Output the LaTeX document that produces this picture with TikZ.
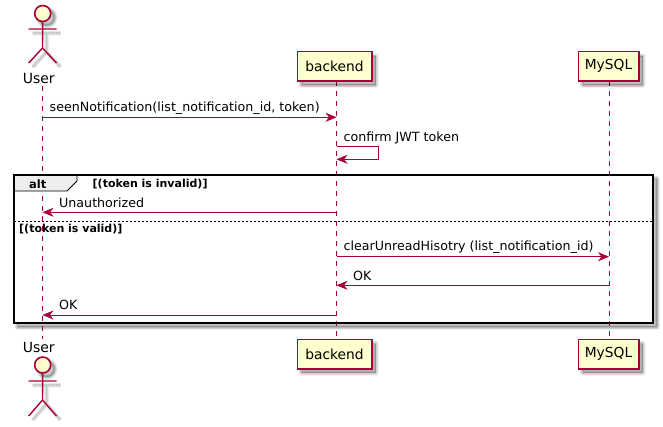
\documentclass[tikz,border=0pt]{standalone}
\usepackage{fontspec}
\setmainfont{DejaVu Sans}
\usetikzlibrary{arrows.meta,calc}
\definecolor{pline}{HTML}{A80036}
\definecolor{pfill}{HTML}{FEFECE}
\definecolor{ptab}{HTML}{EEEEEE}
\newcommand{\softshadow}[1]{%
  \foreach \w/\o in {6/0.05,4.5/0.07,3/0.09,1.5/0.11}{
    \path[draw=black,fill=black,line width=\w pt,draw opacity=\o,fill opacity=0.05,line join=round] #1;
  }}
\newcommand{\softstroke}[1]{%
  \foreach \w/\o in {5/0.05,3.5/0.07,2/0.09}{
    \path[draw=black,line width=\w pt,draw opacity=\o,line join=round] #1;
  }}
\tikzset{
  lifeline/.style={draw=pline,line width=0.8pt,dash pattern=on 5pt off 5pt},
  msg/.style={draw=pline,line width=0.8pt,-{Stealth[length=11pt,width=9pt,inset=3.5pt]}},
  part/.style={draw=pline,fill=pfill,line width=1.5pt,minimum height=29.5pt,inner sep=0pt,font=\fontsize{13.8}{16}\selectfont,text=black},
  msgtext/.style={anchor=base west,inner sep=0pt,font=\fontsize{12.65}{15}\selectfont,text=black},
  guard/.style={anchor=base west,inner sep=0pt,font=\fontsize{11}{13}\selectfont\bfseries,text=black},
  actorname/.style={inner sep=0pt,font=\fontsize{14}{16}\selectfont,text=black},
  head/.style={circle,draw=pline,fill=pfill,line width=1.6pt,minimum size=16pt,inner sep=0pt},
  limb/.style={draw=pline,line width=1.4pt},
}
\begin{document}
\begin{tikzpicture}[x=1pt,y=-1pt]
\useasboundingbox (0,0) rectangle (663,426);
% frame shadow
\softshadow{(17.5,178.5) rectangle (657,327)}
% lifeline anchors
\coordinate (ut) at (42.5,86);
\coordinate (ub) at (42.5,339);
\coordinate (bt) at (336.5,81);
\coordinate (bb) at (336.5,339);
\coordinate (mt) at (609,81);
\coordinate (mb) at (609,339);
% frame
\fill[white] (13.5,174.5) rectangle (653,322.7);
\draw[lifeline] (ut) -- (ub);
\draw[lifeline] (bt) -- (bb);
\draw[lifeline] (mt) -- (mb);
% participant shadows
\softshadow{(301.5,56) rectangle (375.5,85)}
\softshadow{(582.5,56) rectangle (642.5,85)}
\softshadow{(301.5,343.5) rectangle (375.5,372.5)}
\softshadow{(582.5,343.5) rectangle (642.5,372.5)}
% participants
\node[part,minimum width=74.5pt] (b1) at (334.5,66.3) {backend};
\node[part,minimum width=60.5pt] (m1) at (608.5,66.3) {MySQL};
\node[part,minimum width=74.5pt] (b2) at (334.5,354) {backend};
\node[part,minimum width=60.5pt] (m2) at (608.5,354) {MySQL};
% actors
\softstroke{(46.5,33) -- (46.5,52) (32.7,33) -- (60.5,33) (46.5,52) -- (32.7,67) (46.5,52) -- (60.5,67)}
\softshadow{(46.7,17.5) circle (8)}
\softstroke{(46.5,385) -- (46.5,404) (32.7,385) -- (60.5,385) (46.5,404) -- (32.7,420) (46.5,404) -- (60.5,420)}
\softshadow{(46.7,369) circle (8)}
\node[head] (h1) at (42.7,13.5) {};
\draw[limb] (h1.south) -- (42.5,48) -- (28.7,63) (42.5,48) -- (56.5,63) (28.7,29) -- (56.5,29);
\node[actorname] (un1) at (38.8,78) {User};
\node[head] (h2) at (42.7,365) {};
\draw[limb] (h2.south) -- (42.5,400) -- (28.7,416) (42.5,400) -- (56.5,416) (28.7,381) -- (56.5,381);
\node[actorname] (un2) at (38.8,347) {User};
% frame outline and tab
\draw[fill=ptab,draw=black,line width=0.8pt] (13.5,174.5) -- (77,174.5) -- (77,181) -- (67,191) -- (13.5,191) -- cycle;
\node[inner sep=0pt,anchor=base,font=\fontsize{11.5}{13}\selectfont\bfseries] (alt) at (37.7,188) {alt};
\draw[black,line width=2pt] (13.5,174.5) rectangle (653,322.7);
\draw[black,line width=0.8pt,dash pattern=on 2pt off 2pt] (13.5,221.3) -- (653,221.3);
\node[guard] (g1) at (92.5,187) {[(token is invalid)]};
\node[guard] (g2) at (19,232) {[(token is valid)]};
% messages
\coordinate (a1) at (42.5,117.3); \coordinate (a2) at (336.5,117.3);
\draw[msg] (a1) -- (a2);
\node[msgtext] (t1) at (49.5,111) {seenNotification(list\_notification\_id, token)};
\coordinate (s1) at (336.5,146.7); \coordinate (s2) at (378.5,146.7);
\coordinate (s3) at (378.5,159.3); \coordinate (s4) at (336.5,159.3);
\draw[msg] (s1) -- (s2) -- (s3) -- (s4);
\node[msgtext] (t2) at (343.5,141) {confirm JWT token};
\coordinate (c1) at (336.5,212.3); \coordinate (c2) at (42.5,212.3);
\draw[msg] (c1) -- (c2);
\node[msgtext] (t3) at (59,207.5) {Unauthorized};
\coordinate (d1) at (336.5,256.7); \coordinate (d2) at (609,256.7);
\draw[msg] (d1) -- (d2);
\node[msgtext] (t4) at (343.5,250.5) {clearUnreadHisotry (list\_notification\_id)};
\coordinate (e1) at (609,285.3); \coordinate (e2) at (336.5,285.3);
\draw[msg] (e1) -- (e2);
\node[msgtext] (t5) at (353,280) {OK};
\coordinate (f1) at (336.5,315); \coordinate (f2) at (42.5,315);
\draw[msg] (f1) -- (f2);
\node[msgtext] (t6) at (59,309.5) {OK};
\end{tikzpicture}
\end{document}
